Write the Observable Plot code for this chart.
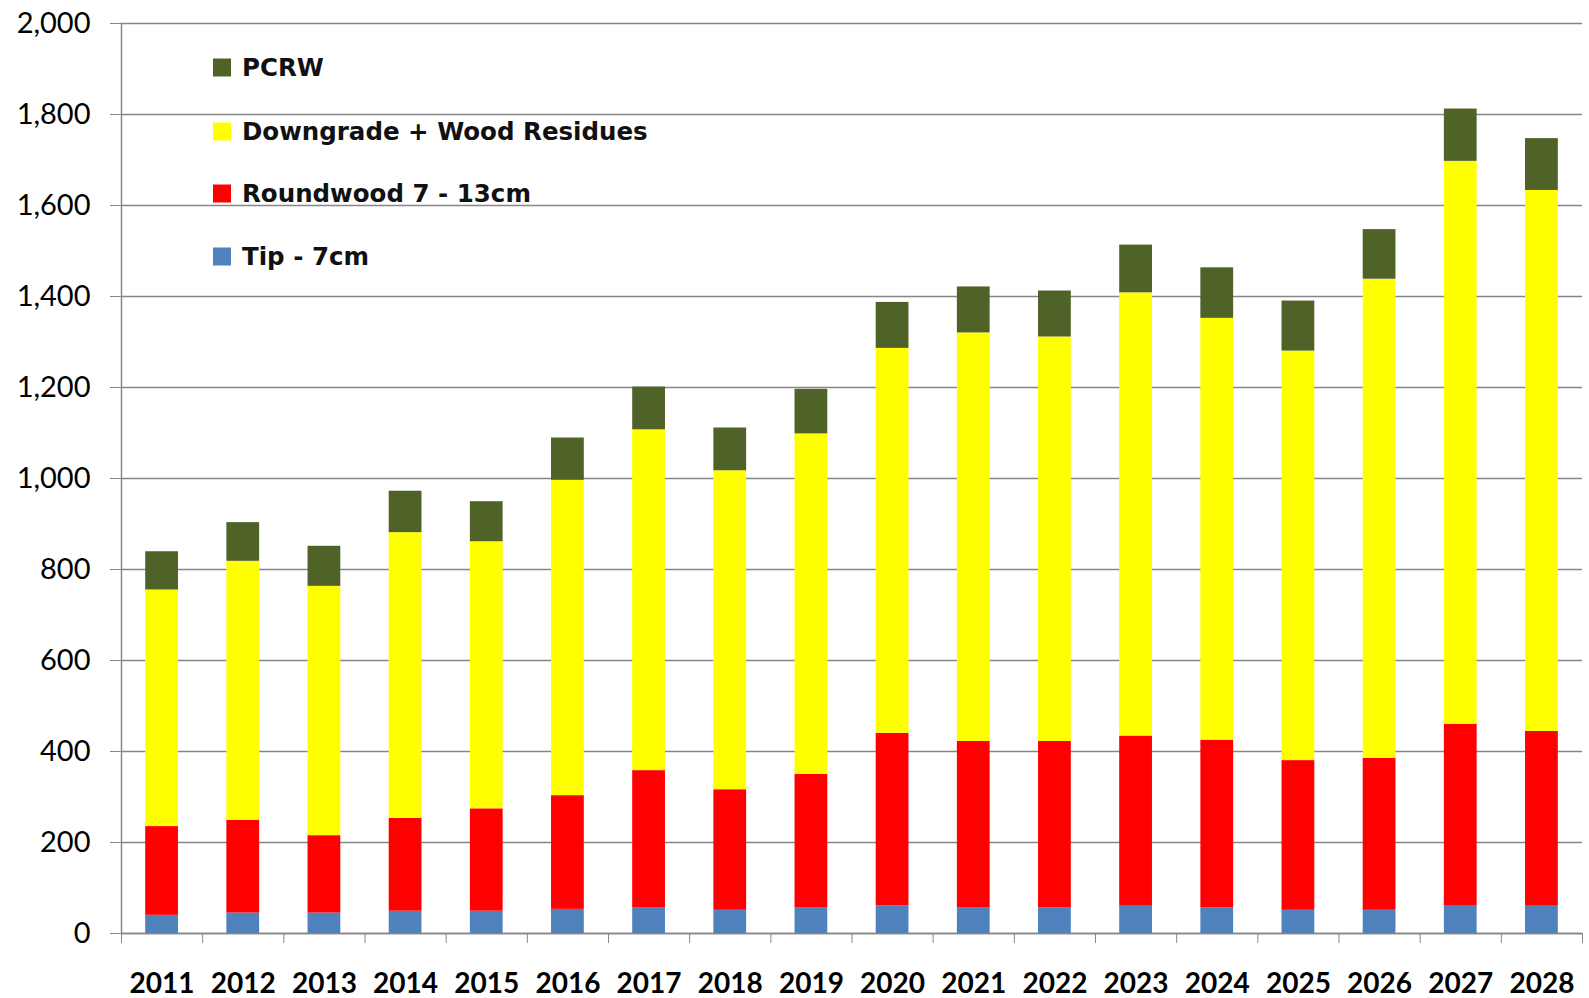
<!DOCTYPE html>
<html>
<head>
<meta charset="utf-8">
<script src="https://cdn.jsdelivr.net/npm/d3@7"></script>
<script src="https://cdn.jsdelivr.net/npm/@observablehq/plot@0.6"></script>
<style>
  html, body { margin: 0; padding: 0; background: #fff; overflow: hidden; }
  #wrap { position: relative; width: 1589px; height: 998px; }
  #chart svg text { fill: #000; }
  #legend { position: absolute; left: 213px; top: 0; font-family: "DejaVu Sans", sans-serif; font-weight: bold; font-size: 24.5px; letter-spacing: 0px; color: #111; }
  #legend .item { position: absolute; left: 0; white-space: nowrap; display: flex; align-items: center; transform: translateY(-50%); }
  #legend .sw { width: 18px; height: 18px; margin-right: 11px; flex: none; }
</style>
</head>
<body>
<div id="wrap">
  <div id="chart"></div>
  <div id="legend"></div>
</div>
<script>
// ---- data ----
const years = ["2011","2012","2013","2014","2015","2016","2017","2018","2019","2020","2021","2022","2023","2024","2025","2026","2027","2028"];
const seriesNames = ["Tip - 7cm", "Roundwood 7 - 13cm", "Downgrade + Wood Residues", "PCRW"];
const tip        = [40, 45, 45, 49, 49, 53, 57, 51, 57, 61, 57, 56, 60, 56, 51, 51, 60, 60];
const roundwood  = [195, 204, 170, 204, 225, 250, 301, 265, 293, 379, 365, 366, 374, 369, 329, 334, 400, 384];
const downgrade  = [520, 569, 548, 628, 587, 693, 749, 701, 748, 846, 898, 889, 974, 927, 900, 1053, 1237, 1189];
const pcrw       = [84, 85, 88, 91, 88, 93, 94, 94, 98, 101, 101, 101, 105, 111, 110, 109, 115, 114];
const seriesColors = ["#4F81BD", "#FF0000", "#FFFF00", "#4F6228"];
const yTicks = [0, 200, 400, 600, 800, 1000, 1200, 1400, 1600, 1800, 2000];
const legendOrder = ["PCRW", "Downgrade + Wood Residues", "Roundwood 7 - 13cm", "Tip - 7cm"];

// ---- build table ----
const seriesValues = [tip, roundwood, downgrade, pcrw];
const rows = [];
seriesNames.forEach((s, k) => {
  years.forEach((y, i) => rows.push({i, year: y, series: s, value: seriesValues[k][i]}));
});
const boundaries = d3.range(years.length + 1);
const centers = years.map((y, i) => ({i: i + 0.5, year: y}));

const grid = "#868686";

const chart = Plot.plot({
  width: 1589,
  height: 998,
  marginLeft: 121,
  marginRight: 7,
  marginTop: 23,
  marginBottom: 65,
  style: {fontFamily: "Lato, sans-serif", fontSize: "29px", color: grid, background: "#fff"},
  x: {domain: [0, years.length], ticks: boundaries, tickFormat: () => "", tickSize: 10, label: null},
  y: {domain: [0, 2000], ticks: yTicks, tickFormat: d3.format(","), tickSize: 11, tickPadding: 20, label: null},
  color: {domain: seriesNames, range: seriesColors},
  marks: [
    Plot.ruleY(yTicks, {stroke: grid, strokeWidth: 1.5}),
    Plot.rect(rows, Plot.stackY({
      x: "i",
      x1: "i",
      x2: d => d.i + 1,
      y: "value",
      fill: "series",
      insetLeft: 24.2,
      insetRight: 24.2
    })),
    Plot.ruleX([0], {stroke: grid, strokeWidth: 1.5}),
    Plot.ruleY([0], {stroke: grid, strokeWidth: 1.5}),
    Plot.text(centers, {x: "i", text: "year", frameAnchor: "bottom", dy: 59, fontWeight: "bold", fontSize: 28, fill: "#000"})
  ]
});
document.getElementById("chart").appendChild(chart);

// ---- legend (HTML overlay) ----
const legendY = [67, 131, 193, 256];
const lg = document.getElementById("legend");
legendOrder.forEach((name, k) => {
  const item = document.createElement("div");
  item.className = "item";
  item.style.top = legendY[k] + "px";
  const sw = document.createElement("span");
  sw.className = "sw";
  sw.style.background = seriesColors[seriesNames.indexOf(name)];
  const t = document.createElement("span");
  t.textContent = name;
  item.appendChild(sw);
  item.appendChild(t);
  lg.appendChild(item);
});
</script>
</body>
</html>
